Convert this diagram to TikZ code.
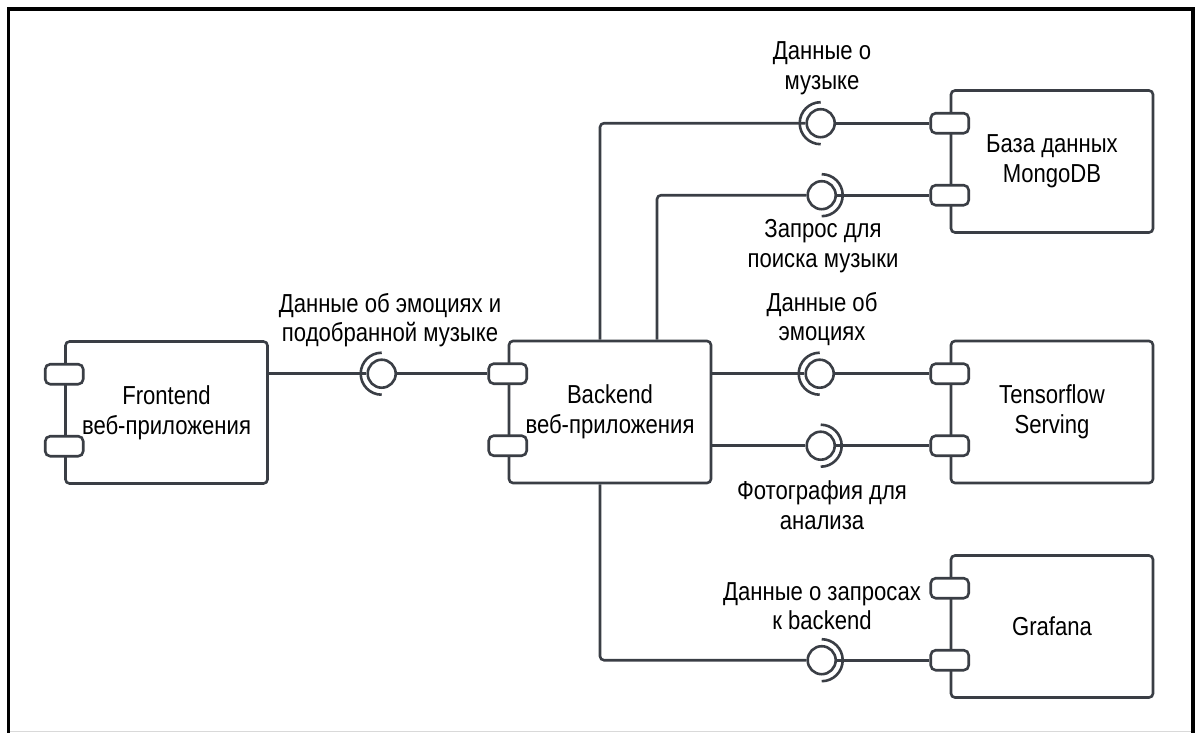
\documentclass[tikz,border=0pt]{standalone}
\usepackage{fontspec}
\setmainfont{Liberation Sans}[FakeStretch=0.85]
\usetikzlibrary{calc}
\definecolor{wirecol}{HTML}{3A3E45}
\tikzset{
  wire/.style={draw=wirecol, line width=2.6pt},
  comp/.style={draw=wirecol, line width=2.6pt, rounded corners=4pt, fill=white,
    minimum width=202pt, minimum height=142pt, align=center, inner sep=0pt,
    font=\fontsize{26}{30}\selectfont},
  port/.style={draw=wirecol, line width=2.6pt, rounded corners=5pt, fill=white,
    minimum width=38pt, minimum height=20pt, inner sep=0pt},
  ball/.style={circle, draw=wirecol, line width=2.6pt, fill=white,
    minimum size=28pt, inner sep=0pt},
  lab/.style={align=center, inner sep=0pt, font=\fontsize{26}{29.5}\selectfont},
}
\begin{document}
\begin{tikzpicture}[x=1pt,y=-1pt]
\useasboundingbox (0,0) rectangle (1197,732);

% frame
\draw[line width=3.6pt, line cap=rect] (8.5,732) -- (8.5,9) -- (1193,9) -- (1193,732);
\draw[black!15, line width=1pt] (10,731) -- (1191,731);

% components
\node[comp] (front) at (166.5,412.5) {Frontend\\веб-приложения};
\node[comp] (back)  at (610,412)     {Backend\\веб-приложения};
\node[comp] (mongo) at (1052,161.5)  {База данных\\MongoDB};
\node[comp] (tf)    at (1052,412)    {Tensorflow\\Serving};
\node[comp] (graf)  at (1052,626.5)  {Grafana};

% ports on the left edge of each component
\foreach \c/\p in {front/fp, back/bp, mongo/mp, tf/tp, graf/gp}{
  \node[port] (\p1) at ($(\c.north west)+(0,34)$) {};
  \node[port] (\p2) at ($(\c.north west)+(0,106)$) {};
}

% provided interfaces (balls)
\node[ball] (b1) at ($(bp1.center)+(-126,0)$) {};
\node[ball] (b2) at ($(mp1.center)+(-129,0)$) {};
\node[ball] (b3) at ($(mp2.center)+(-128,0)$) {};
\node[ball] (b4) at ($(tp1.center)+(-130,0)$) {};
\node[ball] (b5) at ($(tp2.center)+(-129,0)$) {};
\node[ball] (b6) at ($(gp2.center)+(-128,0)$) {};

% bends of the backend connectors
\coordinate (k1) at (600,0);
\coordinate (k2) at (657,0);

% connectors
\draw[wire] (front.east |- b1.center) -- (b1.west);
\draw[wire] (b1.east) -- (bp1.west);

\draw[wire, rounded corners=4pt] (back.north -| k1) -- (k1 |- b2.center) -- (b2.west);
\draw[wire] (b2.east) -- (mp1.west);

\draw[wire, rounded corners=4pt] (back.north -| k2) -- (k2 |- b3.center) -- (b3.west);
\draw[wire] (b3.east) -- (mp2.west);

\draw[wire] (back.east |- b4.center) -- (b4.west);
\draw[wire] (b4.east) -- (tp1.west);

\draw[wire] (back.east |- b5.center) -- (b5.west);
\draw[wire] (b5.east) -- (tp2.west);

\draw[wire, rounded corners=4pt] (back.south -| k1) -- (k1 |- b6.center) -- (b6.west);
\draw[wire] (b6.east) -- (gp2.west);

% required interfaces (sockets)
\draw[wire] (b1.center) ++(90:21) arc (90:270:21);
\draw[wire] (b2.center) ++(90:21) arc (90:270:21);
\draw[wire] (b3.center) ++(-90:21) arc (-90:90:21);
\draw[wire] (b4.center) ++(90:21) arc (90:270:21);
\draw[wire] (b5.center) ++(-90:21) arc (-90:90:21);
\draw[wire] (b6.center) ++(-90:21) arc (-90:90:21);

% interface labels
\node[lab] (l1) at (390,320) {Данные об эмоциях и\\подобранной музыке};
\node[lab] (l2) at (822,68)  {Данные о\\музыке};
\node[lab] (l3) at (823,246) {Запрос для\\поиска музыки};
\node[lab] (l4) at (822,319) {Данные об\\эмоциях};
\node[lab] (l5) at (822,505) {Фотография для\\анализа};
\node[lab] (l6) at (822,606) {Данные о запросах\\к backend};
\end{tikzpicture}
\end{document}
